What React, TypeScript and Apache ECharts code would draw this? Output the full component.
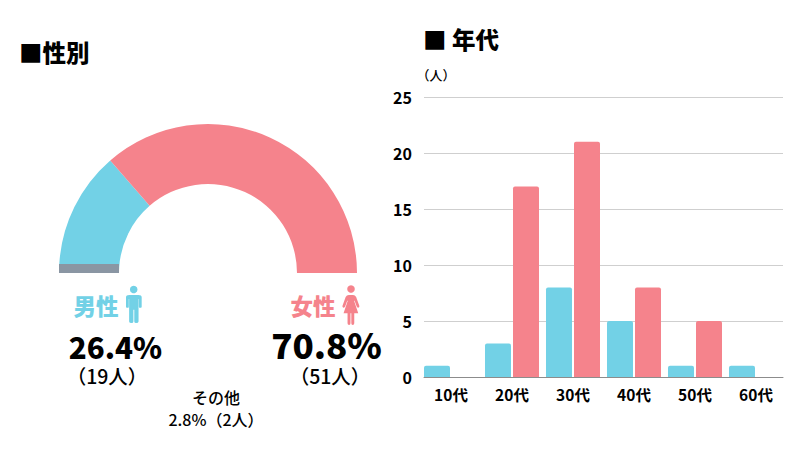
import React, { useEffect, useRef } from "react";
import * as echarts from "echarts";

const FONT = '"Noto Sans CJK JP", "Noto Sans", sans-serif';
const BLUE = "#72D1E6";
const PINK = "#F5838C";
const GREY = "#8A96A3";

const genderNames = ["その他", "男性", "女性"];
// Arc widths in degrees, as measured on the picture (the half ring is 180 degrees wide).
const genderArcDegrees = [3.5, 45.5, 131];
const ageCategories = ["10代", "20代", "30代", "40代", "50代", "60代"];
const maleByAge = [1, 3, 8, 5, 1, 1];
const femaleByAge = [0, 17, 21, 8, 5, 0];
const yTicks = { min: 0, max: 25, interval: 5 };

const RING = { cx: 208, cy: 273, inner: 89, outer: 149 };

const MALE_D =
  "M3 0 H11 Q14 0 14 3 V15 Q14 16.5 12.5 16.5 Q11.5 16.5 11.5 15 V5 H11.2 V34 Q11.2 36 9 36 Q7.4 36 7.4 34 V19 H6.6 V34 Q6.6 36 5 36 Q2.8 36 2.8 34 V5 H2.5 V15 Q2.5 16.5 1.5 16.5 Q0 16.5 0 15 V3 Q0 0 3 0 Z";
const FEMALE_D =
  "M6 0 H10 Q12 0 13 2.5 L16 13 Q16.5 15 15 15.3 Q14 15.5 13.5 14 L11.5 7 H11 L15 22 H11.2 V34 Q11.2 36 9.7 36 Q8.4 36 8.4 34 V22 H7.6 V34 Q7.6 36 6.3 36 Q4.8 36 4.8 34 V22 H1 L5 7 H4.5 L2.5 14 Q2 15.5 1 15.3 Q-0.5 15 0 13 L3 2.5 Q4 0 6 0 Z";

echarts.graphic.registerShape("maleBody", echarts.graphic.extendPath(MALE_D, {}));
echarts.graphic.registerShape("femaleBody", echarts.graphic.extendPath(FEMALE_D, {}));

function label(text: string, x: number, y: number, size: number, weight: number, fill = "#000", align = "center") {
  return {
    type: "text",
    x,
    y,
    style: { text, fill, font: `${weight} ${size}px ${FONT}`, textAlign: align, textVerticalAlign: "middle" },
  };
}

export default function App() {
  const ref = useRef<HTMLDivElement>(null);
  useEffect(() => {
    const chart = echarts.init(ref.current!, null, { renderer: "svg" });
    const colors = [GREY, BLUE, PINK];
    chart.setOption({
      animation: false,
      backgroundColor: "#fff",
      grid: [
        { left: 420.5, width: 366, top: 97, height: 280 },
        { left: 424, width: 359, top: 97, height: 280 },
      ],
      xAxis: [
        {
          gridIndex: 0,
          type: "category",
          data: ageCategories,
          axisLine: { show: false },
          axisTick: { show: false },
          axisLabel: { color: "#000", fontFamily: FONT, fontWeight: 700, fontSize: 15.5, margin: 9 },
        },
        {
          gridIndex: 1,
          type: "value",
          min: 0,
          max: 1,
          splitLine: { show: false },
          axisTick: { show: false },
          axisLabel: { show: false },
          axisLine: { show: true, lineStyle: { color: "#8c8c8c", width: 1 } },
        },
      ],
      yAxis: [
        { gridIndex: 0, type: "value", ...yTicks, show: false, splitLine: { show: false } },
        {
          gridIndex: 1,
          type: "value",
          ...yTicks,
          axisLine: { show: false },
          axisTick: { show: false },
          splitLine: { lineStyle: { color: "#cfcfcf", width: 1 } },
          axisLabel: { color: "#000", fontFamily: FONT, fontWeight: 700, fontSize: 16, margin: 12 },
        },
      ],
      series: [
        {
          type: "pie",
          center: [RING.cx, RING.cy],
          radius: [RING.inner, RING.outer],
          startAngle: 180,
          clockwise: true,
          silent: true,
          label: { show: false },
          labelLine: { show: false },
          data: [
            ...genderNames.map((name, i) => ({
              name,
              value: genderArcDegrees[i],
              itemStyle: { color: colors[i] },
            })),
            { name: "", value: 180, itemStyle: { color: "transparent" } },
          ],
        },
        {
          // The grey slice has a flat top edge in the picture: its height follows from its arc.
          type: "custom",
          coordinateSystem: "none",
          silent: true,
          z: 3,
          data: [[genderArcDegrees[0]]],
          renderItem: (_: unknown, api: any) => {
            const h = RING.outer * Math.sin((api.value(0) * Math.PI) / 180);
            return {
              type: "rect",
              shape: {
                x: RING.cx - RING.outer,
                y: RING.cy - h,
                width: RING.outer - RING.inner,
                height: h,
              },
              style: { fill: GREY },
            };
          },
        },
        {
          type: "bar",
          name: "男性",
          data: maleByAge,
          xAxisIndex: 0,
          yAxisIndex: 0,
          barWidth: 26,
          barGap: "7.7%",
          itemStyle: { color: BLUE, borderRadius: [2, 2, 0, 0] },
        },
        {
          type: "bar",
          name: "女性",
          data: femaleByAge,
          xAxisIndex: 0,
          yAxisIndex: 0,
          barWidth: 26,
          barGap: "7.7%",
          itemStyle: { color: PINK, borderRadius: [2, 2, 0, 0] },
        },
      ],
      graphic: [
        label("■性別", 19, 52, 23.5, 900, "#000", "left"),
        label("■ 年代", 423, 38.5, 23.5, 900, "#000", "left"),
        label("（人）", 416.5, 74, 13, 500, "#000", "left"),
        label("男性", 96, 305, 22.5, 900, BLUE),
        { type: "circle", shape: { cx: 133.7, cy: 289.5, r: 3.8 }, style: { fill: BLUE } },
        { type: "maleBody", x: 126, y: 295, scaleX: 1.12, scaleY: 0.78, style: { fill: BLUE } },
        label("女性", 313, 305, 22.5, 900, PINK),
        { type: "circle", shape: { cx: 351, cy: 289, r: 3.8 }, style: { fill: PINK } },
        { type: "femaleBody", x: 342.5, y: 295, scaleX: 1.05, scaleY: 0.83, style: { fill: PINK } },
        label("26.4%", 115.5, 345.5, 29.5, 900),
        label("（19人）", 107, 375.5, 19.5, 500),
        label("70.8%", 326.5, 343, 35, 900),
        label("（51人）", 330, 375, 19.5, 500),
        label("その他", 216, 397, 16, 500),
        label("2.8%（2人）", 216, 419, 16, 500),
      ],
    });
    return () => chart.dispose();
  }, []);
  return <div ref={ref} style={{ position: "absolute", left: 0, top: 0, width: 800, height: 450 }} />;
}
